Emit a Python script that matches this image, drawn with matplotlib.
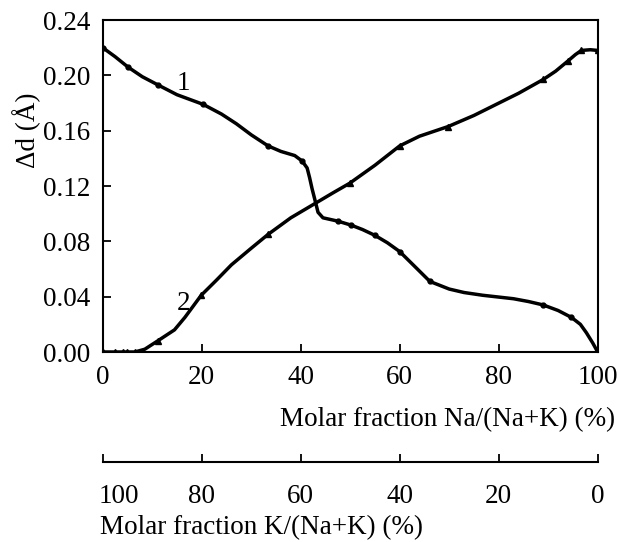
import matplotlib.pyplot as plt
from matplotlib.transforms import ScaledTranslation

plt.rcParams['font.family'] = ['Liberation Serif', 'DejaVu Serif']

# curve 1 (circles) - traced points along the line
na_1 = [0, 2.5, 5.1, 8, 11.2, 15, 20.3, 24, 27, 30, 33.4, 36, 38.8, 40.3, 41.3, 41.8, 42.3, 42.8, 43.5, 44.5,
        47.5, 50.2, 52.5, 55, 57.5, 60, 63, 66.1, 70, 73, 76.8, 83, 86, 89, 92, 94.7, 96.5, 97.7, 99, 100]
dd_1 = [0.220, 0.2135, 0.206, 0.199, 0.193, 0.186, 0.179, 0.172, 0.165, 0.157, 0.149, 0.145, 0.142, 0.138,
        0.133, 0.126, 0.118, 0.111, 0.101, 0.097,
        0.0946, 0.0917, 0.0885, 0.0843, 0.079, 0.0726, 0.062, 0.051, 0.0455, 0.043, 0.041, 0.0385, 0.0365,
        0.034, 0.030, 0.025, 0.020, 0.014, 0.0065, 0.0]
marks_1 = [0, 2, 4, 6, 10, 13, 20, 21, 23, 25, 27, 33, 35, 39]

# curve 2 (triangles)
na_2 = [0, 2.5, 4, 5, 6.5, 8.5, 11.1, 14.5, 16.6, 19.9, 23, 26, 30, 33.4, 38, 43.2, 46.5, 49.9, 55,
        57.5, 60, 64, 69.8, 75, 79.5, 84, 89, 91.5, 94, 95.5, 96.7, 98.5, 100]
dd_2 = [0, 0, 0, 0, 0, 0.002, 0.008, 0.016, 0.025, 0.041, 0.052, 0.063, 0.075, 0.085, 0.097, 0.108, 0.115,
        0.122, 0.135, 0.142, 0.149, 0.156, 0.163, 0.171, 0.179, 0.187, 0.197, 0.203, 0.2104, 0.215, 0.218,
        0.2185, 0.218]
marks_2 = [0, 1, 2, 3, 4, 6, 9, 13, 17, 20, 22, 26, 28, 30, 32]

na_ticks = [0, 20, 40, 60, 80, 100]
k_labels = ['100', '80', '60', '40', '20', '0']
y_ticks = [0.00, 0.04, 0.08, 0.12, 0.16, 0.20, 0.24]

W, H = 619, 542
FS = 19.5
fig = plt.figure(figsize=(W / 100, H / 100), dpi=100)
left, right, top, bottom = 102.7, 597.7, 20, 352
ax = fig.add_axes([left / W, 1 - bottom / H, (right - left) / W, (bottom - top) / H])

ax.plot(na_1, dd_1, color='black', lw=2.5, marker='o', ms=3.5, markevery=marks_1)
ax.plot(na_2, dd_2, color='black', lw=2.5, marker='^', ms=4, markevery=marks_2)
ax.text(16.3, 0.194, '1', fontsize=FS, ha='center', va='center')
ax.text(16.3, 0.0354, '2', fontsize=FS, ha='center', va='center')

ax.set_xlim(0, 100)
ax.set_ylim(0, 0.24)
ax.set_xticks(na_ticks)
ax.set_yticks(y_ticks)
ax.set_yticklabels(['%.2f' % v for v in y_ticks])
ax.tick_params(direction='in', length=6, width=1.3, labelsize=FS)
ax.tick_params(axis='x', pad=9)
ax.tick_params(axis='y', pad=9)
for s in ax.spines.values():
    s.set_linewidth(1.5)

fig.text(615 / W, 1 - 420 / H, 'Molar fraction Na/(Na+K) (%)', fontsize=FS,
         ha='right', va='center')
fig.text(27 / W, 1 - 130 / H, 'Δd (Å)', fontsize=FS, rotation=90,
         ha='center', va='center')

# second scale for K fraction
ax2 = fig.add_axes([left / W, 1 - 462 / H, (right - left) / W, 0.0001])
ax2.set_xlim(0, 100)
ax2.set_ylim(0, 1)
ax2.set_xticks(na_ticks)
ax2.set_xticklabels(k_labels)
ax2.set_yticks([])
for side in ['top', 'left', 'right']:
    ax2.spines[side].set_visible(False)
ax2.spines['bottom'].set_linewidth(1.5)
ax2.patch.set_visible(False)
ax2.tick_params(axis='x', direction='in', length=6, width=1.3, labelsize=FS, pad=16)
# the "100" sits to the right of its tick in the original
first = ax2.get_xticklabels()[0]
first.set_horizontalalignment('left')
first.set_transform(first.get_transform() + ScaledTranslation(-4 / 100, 0, fig.dpi_scale_trans))
fig.text(100 / W, 1 - 528 / H, 'Molar fraction K/(Na+K) (%)', fontsize=FS,
         ha='left', va='center')

fig.savefig('out.png', dpi=100)
